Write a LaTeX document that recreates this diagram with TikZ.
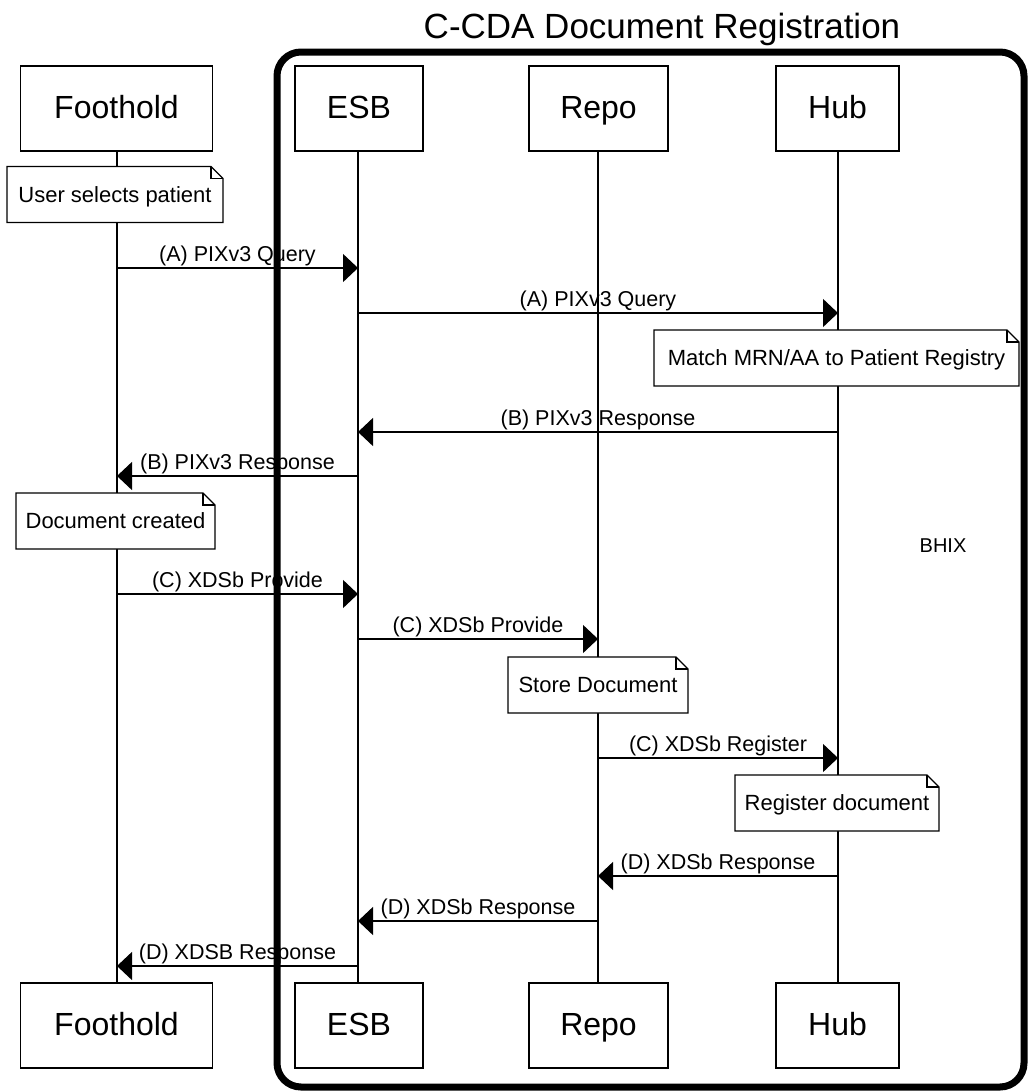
\documentclass[tikz,border=0pt]{standalone}
\usepackage{fontspec}
\setmainfont{Liberation Sans}
\usetikzlibrary{arrows.meta}
\newcommand\drawnotebox[1]{%
  \fill[white] (#1.north west) -- ([xshift=-12pt]#1.north east) -- ([yshift=-12pt]#1.north east) -- (#1.south east) -- (#1.south west) -- cycle;
  \draw[noteline] (#1.north west) -- ([xshift=-12pt]#1.north east) -- ([yshift=-12pt]#1.north east) -- (#1.south east) -- (#1.south west) -- cycle;
  \draw[noteline] ([xshift=-12pt]#1.north east) -- ([xshift=-12pt,yshift=-12pt]#1.north east) -- ([yshift=-12pt]#1.north east);
}
\begin{document}
\begin{tikzpicture}[x=1pt,y=-1pt,
  actor/.style={draw, line width=1.3pt, fill=white, minimum width=#1, minimum height=85pt,
    inner sep=0pt, outer sep=0pt, text height=23pt, text depth=4pt,
    font=\fontsize{32}{38}\selectfont},
  notetext/.style={minimum width=#1, minimum height=56pt, inner sep=0pt, outer sep=0pt,
    text height=15.75pt, text depth=0.75pt, font=\fontsize{22}{26}\selectfont},
  noteline/.style={line width=1.2pt},
  lifeline/.style={line width=1.1pt},
  msg/.style={line width=1.3pt, -{Triangle[length=15pt,width=28pt]}},
  msglabel/.style={above, inner sep=1pt, font=\fontsize{21.5}{25}\selectfont},
  frame/.style={line width=7pt, rounded corners=24pt}]
\useasboundingbox (0,0) rectangle (1028,1092);
\fill[white] (0,0) rectangle (1028,1092);

% title
\node[anchor=base, font=\fontsize{35}{42}\selectfont] (title) at (662,38) {C-CDA Document Registration};
\node[anchor=base, font=\fontsize{20}{24}\selectfont] (bhix) at (943,552) {BHIX};

% participants
\node[actor=192pt] (Ft) at (116.5,108.5) {Foothold};
\node[actor=128pt] (Et) at (359,108.5) {ESB};
\node[actor=139pt] (Rt) at (598.5,108.5) {Repo};
\node[actor=123pt] (Ht) at (837.5,108.5) {Hub};
\node[actor=192pt] (Fb) at (116.5,1025.5) {Foothold};
\node[actor=128pt] (Eb) at (359,1025.5) {ESB};
\node[actor=139pt] (Rb) at (598.5,1025.5) {Repo};
\node[actor=123pt] (Hb) at (837.5,1025.5) {Hub};

\coordinate (F) at (117,0);
\coordinate (E) at (358,0);
\coordinate (R) at (598,0);
\coordinate (H) at (838,0);

% lifelines
\draw[lifeline] (Ft.south -| F) -- (Fb.north -| F);
\draw[lifeline] (Et.south -| E) -- (Eb.north -| E);
\draw[lifeline] (Rt.south -| R) -- (Rb.north -| R);
\draw[lifeline] (Ht.south -| H) -- (Hb.north -| H);

% notes
\node[notetext=216pt] (n1) at (115,194.5) {};
\node[notetext=365pt] (n2) at (836.5,358) {};
\node[notetext=199pt] (n3) at (115.5,521) {};
\node[notetext=180pt] (n4) at (598,685) {};
\node[notetext=204pt] (n5) at (837,803) {};
\drawnotebox{n1}
\drawnotebox{n2}
\drawnotebox{n3}
\drawnotebox{n4}
\drawnotebox{n5}
\node[notetext=216pt] (t1) at (n1) {User selects patient};
\node[notetext=365pt] (t2) at (n2) {Match MRN/AA to Patient Registry};
\node[notetext=199pt] (t3) at (n3) {Document created};
\node[notetext=180pt] (t4) at (n4) {Store Document};
\node[notetext=204pt] (t5) at (n5) {Register document};

% messages
\draw[msg] (F |- 0,268) -- (E |- 0,268) node[msglabel, midway] {(A) PIXv3 Query};
\draw[msg] (E |- 0,313) -- (H |- 0,313) node[msglabel, midway] {(A) PIXv3 Query};
\draw[msg] (H |- 0,432) -- (E |- 0,432) node[msglabel, midway] {(B) PIXv3 Response};
\draw[msg] (E |- 0,476) -- (F |- 0,476) node[msglabel, midway] {(B) PIXv3 Response};
\draw[msg] (F |- 0,594) -- (E |- 0,594) node[msglabel, midway] {(C) XDSb Provide};
\draw[msg] (E |- 0,639) -- (R |- 0,639) node[msglabel, midway] {(C) XDSb Provide};
\draw[msg] (R |- 0,758) -- (H |- 0,758) node[msglabel, midway] {(C) XDSb Register};
\draw[msg] (H |- 0,876) -- (R |- 0,876) node[msglabel, midway] {(D) XDSb Response};
\draw[msg] (R |- 0,921) -- (E |- 0,921) node[msglabel, midway] {(D) XDSb Response};
\draw[msg] (E |- 0,966) -- (F |- 0,966) node[msglabel, midway] {(D) XDSB Response};

% frame
\draw[frame] (277,52) rectangle (1024,1087);
\end{tikzpicture}
\end{document}
